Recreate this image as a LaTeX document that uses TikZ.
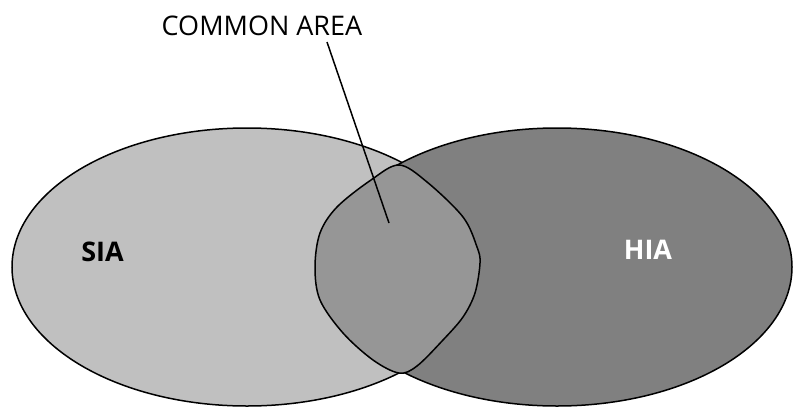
\documentclass[tikz,border=0pt]{standalone}
\usepackage{fontspec}
\setmainfont{Open Sans}
\begin{document}
\begin{tikzpicture}[x=1pt,y=-1pt,
  outline/.style={draw=black,line width=1.5pt},
  lbl/.style={inner sep=0pt,font=\fontsize{27}{32}\selectfont},
  blbl/.style={inner sep=0pt,font=\fontsize{27}{32}\selectfont\bfseries}]
\useasboundingbox (0,0) rectangle (793,407);
\path[outline,fill={rgb,255:red,192;green,192;blue,192}] (247,267) ellipse [x radius=235,y radius=139];
\path[outline,fill={rgb,255:red,128;green,128;blue,128}] (557,267) ellipse [x radius=235,y radius=139];
\path[outline,fill={rgb,255:red,150;green,150;blue,150}]
  plot[smooth cycle,tension=0.55] coordinates {
  (399,165) (427,182) (463,217) (477,247) (480,263) (475,293) (463,317) (443,340) (417,366) (399,373)
  (373,360) (343,333) (320,300) (315,267) (320,233) (337,207) (371,180)};
\node[lbl] (common) at (262,26) {COMMON AREA};
\node[blbl] (sia) at (102.5,251.5) {SIA};
\node[blbl,text=white] (hia) at (648,250) {HIA};
\coordinate (ptrstart) at (327,42);
\coordinate (ptrend) at (389,223);
\draw[line width=1.5pt] (ptrstart) -- (ptrend);
\end{tikzpicture}
\end{document}
